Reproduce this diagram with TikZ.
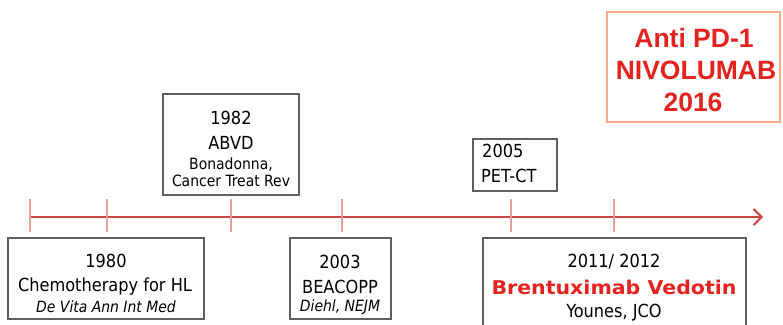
\documentclass[tikz,border=0pt]{standalone}
\usepackage{fontspec}
\setmainfont{DejaVu Sans Condensed}
\newfontfamily\boldfont{Liberation Sans}
\newfontfamily\widebold{DejaVu Sans}
\usetikzlibrary{arrows.meta}
\definecolor{tlred}{RGB}{204,72,64}
\definecolor{tickred}{RGB}{232,160,155}
\definecolor{boxgray}{RGB}{95,95,95}
\definecolor{pdborder}{RGB}{246,170,140}
\definecolor{txtred}{RGB}{228,35,30}
\begin{document}
\begin{tikzpicture}[x=1pt,y=-1pt,
  box/.style={draw=boxgray,line width=1.1pt,inner sep=0pt},
  txt/.style={inner sep=0pt,font=\fontsize{18}{18}\selectfont},
  small/.style={inner sep=0pt,font=\fontsize{15.5}{15.5}\selectfont},
  pdtxt/.style={inner sep=0pt,text=txtred,font=\boldfont\bfseries\fontsize{26.5}{26.5}\selectfont},
  tick/.style={draw=tickred,line width=1.4pt}]
\useasboundingbox (0,0) rectangle (783,324);
\clip (0,0) rectangle (783,324);
% timeline
\coordinate (t0) at (30,217);
\coordinate (t1) at (763,217);
\draw[tlred,line width=2.6pt,-{Straight Barb[length=8pt,width=16pt,line width=2pt]}] (t0) -- (t1);
\foreach \x/\n in {30/a,107/b,231/c,342/d,511/e,614/f}{
  \coordinate (\n1) at (\x,199);
  \coordinate (\n2) at (\x,232);
  \draw[tick] (\n1) -- (\n2);
}
% boxes
\node[box,minimum width=196pt,minimum height=81pt] (b1980) at (106,278.5) {};
\node[box,minimum width=101pt,minimum height=81pt] (b2003) at (340.5,278.5) {};
\node[box,minimum width=263pt,minimum height=100pt] (b2011) at (614.5,288) {};
\node[box,fill=white,minimum width=136pt,minimum height=101pt] (b1982) at (231,144.5) {};
\node[box,fill=white,minimum width=84pt,minimum height=52pt] (b2005) at (515,165) {};
\node[draw=pdborder,line width=1.1pt,inner sep=0pt,minimum width=173pt,minimum height=110pt] (bpd) at (693.5,67) {};
% texts
\node[txt] (y1980) at (106,261) {1980};
\node[txt] (c1980) at (105,287) {Chemotherapy for HL};
\node[small] (r1980) at (106,307) {\itshape De Vita Ann Int Med};
\node[txt] (y2003) at (340,262) {2003};
\node[txt] (c2003) at (340,287) {BEACOPP};
\node[small] (r2003) at (340,307) {\itshape Diehl, NEJM};
\node[txt] (y2011) at (614,262) {2011/ 2012};
\node[inner sep=0pt,text=txtred,font=\widebold\bfseries\fontsize{19}{19}\selectfont] (c2011) at (614,287) {\scalebox{1.08}[1]{Brentuximab Vedotin}};
\node[txt] (r2011) at (614,313) {Younes, JCO};
\node[txt] (y1982) at (231,118) {1982};
\node[txt] (c1982) at (231,143) {ABVD};
\node[small] (r1982a) at (231,165) {Bonadonna,};
\node[small] (r1982b) at (231,181) {Cancer Treat Rev};
\node[txt,anchor=west] (y2005) at (482,151) {2005};
\node[txt,anchor=west] (c2005) at (481,176) {PET-CT};
\node[pdtxt] (p1) at (694,38) {Anti PD-1};
\node[pdtxt] (p2) at (696,70) {NIVOLUMAB};
\node[pdtxt] (p3) at (693,102) {2016};
\end{tikzpicture}
\end{document}
